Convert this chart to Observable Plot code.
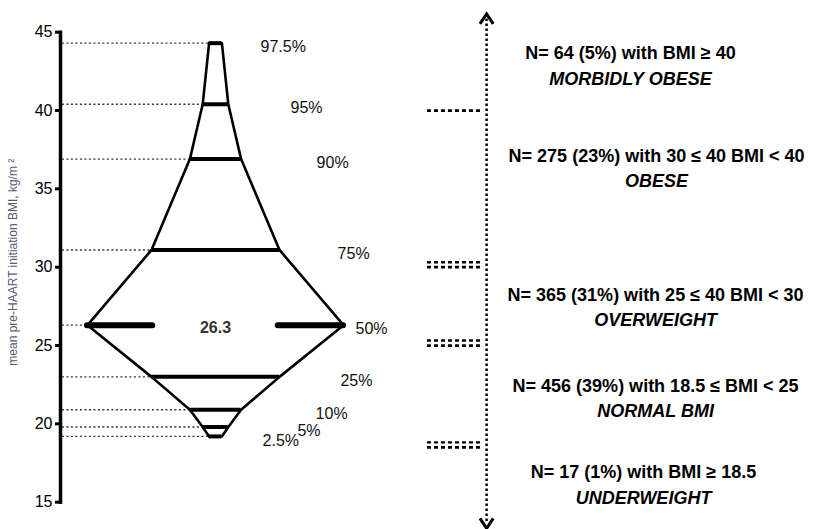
<!DOCTYPE html>
<html><head><meta charset="utf-8">
<script src="https://cdn.jsdelivr.net/npm/d3@7"></script>
<script src="https://cdn.jsdelivr.net/npm/@observablehq/plot@0.6"></script>
<style>body{margin:0;background:#fff}</style>
</head><body><div id="chart"></div>
<script>
// ---- data ----
const percentiles = [2.5, 5, 10, 25, 50, 75, 90, 95, 97.5];
const percentileLabels = ["2.5%", "5%", "10%", "25%", "50%", "75%", "90%", "95%", "97.5%"];
const bmiAtPercentile = [19.2, 19.8, 20.9, 23.0, 26.3, 31.1, 36.9, 40.4, 44.3];
const yTicks = [15, 20, 25, 30, 35, 40, 45];
const bmiCutoffs = [40, 30, 25, 18.5];
const categoryCounts = [
  "N= 64 (5%) with BMI \u2265 40",
  "N= 275 (23%) with 30 \u2264 40 BMI < 40",
  "N= 365 (31%) with 25 \u2264 40 BMI < 30",
  "N= 456 (39%) with 18.5 \u2264 BMI < 25",
  "N= 17 (1%) with BMI \u2265 18.5"
];
const categoryNames = ["MORBIDLY OBESE", "OBESE", "OVERWEIGHT", "NORMAL BMI", "UNDERWEIGHT"];
const yTitle = "mean pre-HAART initiation BMI, kg/m \u00b2";

// ---- annotation layout (in scale units) ----
const pctLabelX = [18.4, 32, 39.1, 48.8, 54.7, 47.7, 39.5, 29.3, 17.6];
const catLabelX = [162.1, 172.3, 171.9, 171.9, 167.2];
const catLabelY = [42.83, 36.27, 27.40, 21.59, 16.07];
const arrowX = 105.9;
const arrowEnds = [45.85, 13.65];
const stubX = [82.8, 104.7];
const leaderX = -59.8;
const medianGap = 24.5;

const font = "Arial, 'Liberation Sans', sans-serif";
const rows = percentiles.map((p, i) => ({
  p, label: percentileLabels[i], value: bmiAtPercentile[i], hw: Math.min(p, 100 - p), lx: pctLabelX[i]
}));
const median = rows.find(d => d.p === 50);
const cats = categoryNames.map((n, i) => ({name: n, count: categoryCounts[i], x: catLabelX[i], y: catLabelY[i]}));

const chevron = {
  draw(ctx, size) {
    const s = Math.sqrt(size) / 2;
    ctx.moveTo(-s, s * 0.75);
    ctx.lineTo(0, -s * 0.75);
    ctx.lineTo(s, s * 0.75);
  }
};

const chart = Plot.plot({
  width: 816,
  height: 529,
  marginLeft: 60,
  marginRight: 0,
  marginTop: 31.7,
  marginBottom: 27.3,
  style: {fontFamily: font, background: "white", color: "black"},
  x: {domain: [-50, 50], range: [87, 343], axis: null},
  y: {domain: [15, 45]},
  marks: [
    Plot.frame({anchor: "left", strokeWidth: 3.5}),
    Plot.axisY({ticks: yTicks, tickSize: 5, tickPadding: 3, fontSize: 16, strokeWidth: 3, label: null, tickFormat: d => d}),
    Plot.text([yTitle], {frameAnchor: "left", textAnchor: "middle", dx: -47, dy: -5, rotate: -90, fontSize: 12, fill: "#555a75", ariaLabel: "ytitle"}),
    // leader lines
    Plot.ruleY(rows, {y: "value", x1: leaderX, x2: d => -d.hw, stroke: "#333", strokeWidth: 1.4, strokeDasharray: "2 2.5"}),
    // outline
    Plot.line(rows, {x: d => -d.hw, y: "value", strokeWidth: 2.6}),
    Plot.line(rows, {x: "hw", y: "value", strokeWidth: 2.6}),
    // percentile bars
    Plot.ruleY(rows.filter(d => d.p !== 50), {y: "value", x1: d => -d.hw, x2: "hw", strokeWidth: 4}),
    Plot.ruleY([{x1: -median.hw, x2: -medianGap}, {x1: medianGap, x2: median.hw}],
      {y: median.value, x1: "x1", x2: "x2", strokeWidth: 6, strokeLinecap: "round"}),
    Plot.text([median], {x: 0, y: "value", text: d => d.value.toFixed(1), dy: 3, fontSize: 16, fontWeight: "bold", fill: "#333"}),
    Plot.text(rows, {x: "lx", y: "value", text: "label", textAnchor: "start", dy: 4, fontSize: 16, fill: "#111"}),
    // right panel: arrow
    Plot.ruleX([arrowX], {y1: arrowEnds[0], y2: arrowEnds[1], strokeWidth: 2.5, strokeDasharray: "2.5 2.5"}),
    Plot.dot([{y: arrowEnds[0], r: 0}, {y: arrowEnds[1], r: 180}], {x: arrowX, y: "y", rotate: "r", symbol: chevron, r: 7.5, fill: "none", stroke: "black", strokeWidth: 3}),
    // cutoff stubs
    Plot.ruleY(bmiCutoffs, {y: d => d, x1: stubX[0], x2: stubX[1], strokeWidth: 2.8, strokeDasharray: "4 3"}),
    Plot.ruleY(bmiCutoffs.filter(d => d < 40), {y: d => d, x1: stubX[0], x2: stubX[1], strokeWidth: 2.4, strokeDasharray: "4 3", dy: -5}),
    // category text
    Plot.text(cats, {x: "x", y: "y", text: "count", dy: -12.75, fontSize: 18, fontWeight: "bold", fill: "black"}),
    Plot.text(cats, {x: "x", y: "y", text: "name", dy: 12.75, fontSize: 18, fontWeight: "bold", fontStyle: "italic", fill: "black"})
  ]
});
const t = chart.querySelector('g[aria-label="ytitle"]');
if (t) t.style.letterSpacing = "0.5px";
document.getElementById("chart").appendChild(chart);
</script>
</body></html>
